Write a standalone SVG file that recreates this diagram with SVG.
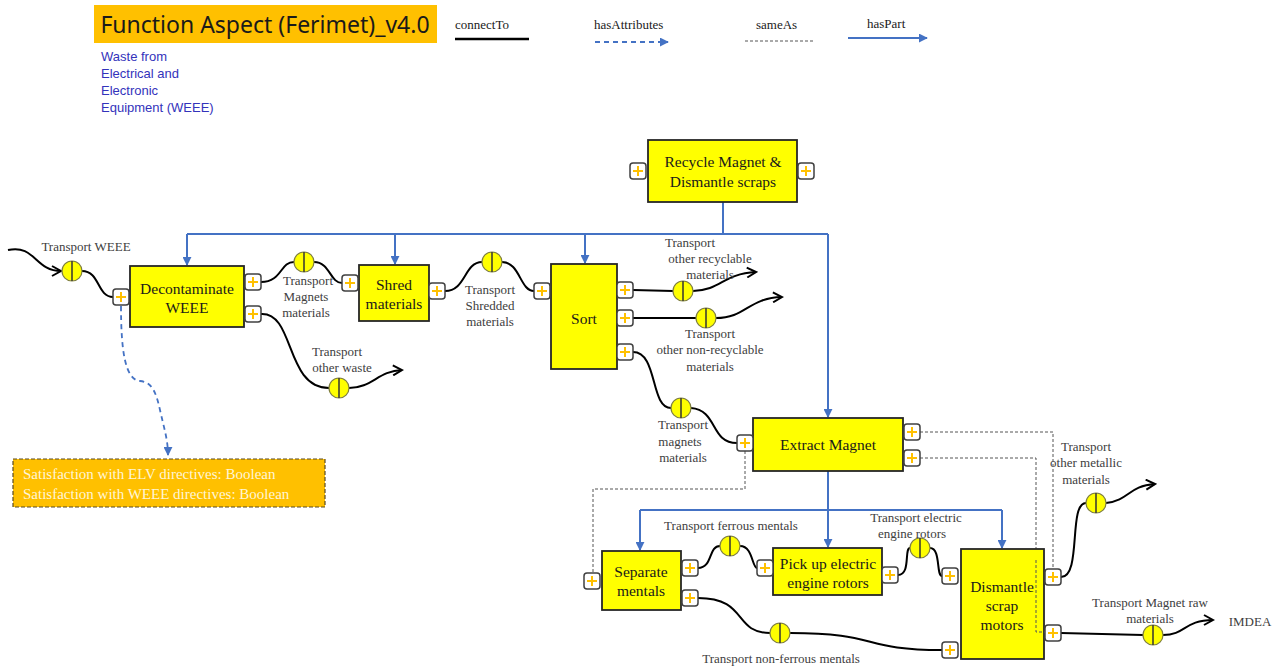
<svg xmlns="http://www.w3.org/2000/svg" width="1280" height="669" viewBox="0 0 1280 669">
<defs>
<marker id="open" viewBox="0 0 12 12" refX="10" refY="6" markerWidth="12" markerHeight="12" markerUnits="userSpaceOnUse" orient="auto"><path d="M1,1 L10,6 L1,11" fill="none" stroke="#000" stroke-width="2"/></marker>
<marker id="blue" viewBox="0 0 10 10" refX="9" refY="5" markerWidth="9" markerHeight="9" markerUnits="userSpaceOnUse" orient="auto"><path d="M0,0 L10,5 L0,10 Z" fill="#4472C4"/></marker>
<g id="port"><rect x="-8" y="-8" width="16" height="16" rx="3" fill="#fff" stroke="#404040" stroke-width="1.5"/><path d="M-5,0 H5 M0,-5 V5" stroke="#FFC000" stroke-width="2"/></g>
<g id="flow"><circle r="10" fill="#FFFF00" stroke="#7F7F3F" stroke-width="1.2"/><path d="M0,-10 V10" stroke="#333" stroke-width="1.5"/></g>
</defs>
<style>
.node{fill:#FFFF00;stroke:#262626;stroke-width:1.8}
.nl{font-family:'Liberation Serif','Times New Roman',Times,'DejaVu Serif',serif;font-size:15.5px;fill:#1a1a1a;text-anchor:middle}
.cl{font-family:'Liberation Serif','Times New Roman',Times,'DejaVu Serif',serif;font-size:13px;fill:#404040;text-anchor:middle}
.ser{font-family:'Liberation Serif','Times New Roman',Times,'DejaVu Serif',serif}
.flowline{fill:none;stroke:#000;stroke-width:2}
.part{fill:none;stroke:#4472C4;stroke-width:2}
.same{fill:none;stroke:#555;stroke-width:1;stroke-dasharray:3,2}
</style>
<rect width="1280" height="669" fill="#fff"/>

<g id="header">
<rect x="94" y="5" width="343" height="38" fill="#FFC000"/>
<text x="265" y="33" font-family="'Noto Sans','Liberation Sans',sans-serif" font-size="23" fill="#1a1a1a" text-anchor="middle">Function Aspect (Ferimet)_v4.0</text>
<g font-family="'Liberation Sans',sans-serif" font-size="13" fill="#3333BB">
<text x="101" y="61">Waste from</text>
<text x="101" y="78">Electrical and</text>
<text x="101" y="95">Electronic</text>
<text x="101" y="112">Equipment (WEEE)</text>
</g>
</g>

<g id="legend" class="ser" font-size="13" fill="#1a1a1a">
<text x="455" y="29">connectTo</text>
<path d="M455,39 H529" stroke="#000" stroke-width="2.5"/>
<text x="594" y="29">hasAttributes</text>
<path d="M595,42 H668" stroke="#4472C4" stroke-width="1.8" stroke-dasharray="5,4" marker-end="url(#blue)"/>
<text x="756" y="29">sameAs</text>
<path d="M745,41 H815" class="same"/>
<text x="867" y="28">hasPart</text>
<path d="M848,38 H927" class="part" marker-end="url(#blue)"/>
</g>

<g id="connectors">
<!-- hasPart -->
<path class="part" d="M723,202 V234 M187,234 H828"/>
<path class="part" d="M187,234 V265" marker-end="url(#blue)"/>
<path class="part" d="M395,234 V264" marker-end="url(#blue)"/>
<path class="part" d="M585,234 V263" marker-end="url(#blue)"/>
<path class="part" d="M828,234 V417" marker-end="url(#blue)"/>
<path class="part" d="M828,471 V510 M640,510 H1002"/>
<path class="part" d="M640,510 V550" marker-end="url(#blue)"/>
<path class="part" d="M828,510 V547" marker-end="url(#blue)"/>
<path class="part" d="M1002,510 V548" marker-end="url(#blue)"/>
<!-- hasAttributes -->
<path d="M121,306 C121,350 125,380 140,381 C152,382 156,392 160,410 C164,428 168,440 168,455" fill="none" stroke="#4472C4" stroke-width="1.8" stroke-dasharray="5,4" marker-end="url(#blue)"/>
<!-- sameAs -->
<path class="same" d="M745,451 V489 H593 V573"/>
<path class="same" d="M920,432 H1053 V569"/>
<path class="same" d="M920,458 H1036 V632 H1045"/>
<!-- connectTo flows -->
<path class="flowline" d="M8,250 C35,244 35,271 61,271" marker-end="url(#open)"/>
<path class="flowline" d="M82,271 C100,271 97,297 113,297"/>
<path class="flowline" d="M261,282 C282,282 280,262 294,262 M314,262 C330,262 330,283 342,283"/>
<path class="flowline" d="M445,291 C466,291 464,262 482,262 M502,262 C520,262 520,291 534,291"/>
<path class="flowline" d="M261,314 C295,312 285,388 329,388"/>
<path class="flowline" d="M349,388 C372,388 378,371 402,370" marker-end="url(#open)"/>
<path class="flowline" d="M633,290 L673,291"/>
<path class="flowline" d="M693,291 C722,290 722,274 756,272" marker-end="url(#open)"/>
<path class="flowline" d="M633,318 L696,318"/>
<path class="flowline" d="M716,318 C746,318 748,298 782,297" marker-end="url(#open)"/>
<path class="flowline" d="M633,352 C658,352 650,408 671,408 M691,408 C718,410 710,443 737,443"/>
<path class="flowline" d="M698,568 C713,568 708,546 720,546 M740,546 C753,546 752,568 757,568"/>
<path class="flowline" d="M898,575 C911,575 904,548 910,548 M930,548 C941,548 936,576 942,576"/>
<path class="flowline" d="M698,598 C748,598 733,633 770,633 M790,633 C880,633 860,650 942,650"/>
<path class="flowline" d="M1061,577 C1082,577 1068,503 1086,503"/>
<path class="flowline" d="M1106,503 C1130,500 1128,486 1155,484" marker-end="url(#open)"/>
<path class="flowline" d="M1061,633 L1143,635"/>
<path class="flowline" d="M1163,635 C1186,635 1184,620 1213,620" marker-end="url(#open)"/>
<!-- flow symbols -->
<use href="#flow" x="72" y="271"/>
<use href="#flow" x="304" y="262"/>
<use href="#flow" x="492" y="262"/>
<use href="#flow" x="339" y="388"/>
<use href="#flow" x="683" y="291"/>
<use href="#flow" x="706" y="318"/>
<use href="#flow" x="681" y="408"/>
<use href="#flow" x="730" y="546"/>
<use href="#flow" x="920" y="548"/>
<use href="#flow" x="780" y="633"/>
<use href="#flow" x="1096" y="503"/>
<use href="#flow" x="1153" y="635"/>
<!-- labels -->
<text class="cl" x="86" y="251">Transport WEEE</text>
<text class="cl" x="308" y="285">Transport</text><text class="cl" x="306" y="301">Magnets</text><text class="cl" x="306" y="317">materials</text>
<text class="cl" x="490" y="294">Transport</text><text class="cl" x="490" y="310">Shredded</text><text class="cl" x="490" y="326">materials</text>
<text class="cl" x="337" y="356">Transport</text><text class="cl" x="342" y="372">other waste</text>
<text class="cl" x="690" y="247">Transport</text><text class="cl" x="710" y="263">other recyclable</text><text class="cl" x="710" y="279">materials</text>
<text class="cl" x="710" y="338">Transport</text><text class="cl" x="710" y="354">other non-recyclable</text><text class="cl" x="710" y="371">materials</text>
<text class="cl" x="683" y="429">Transport</text><text class="cl" x="680" y="446">magnets</text><text class="cl" x="683" y="462">materials</text>
<text class="cl" x="731" y="530">Transport  ferrous mentals</text>
<text class="cl" x="916" y="522">Transport electric</text><text class="cl" x="912" y="538">engine rotors</text>
<text class="cl" x="781" y="663">Transport  non-ferrous mentals</text>
<text class="cl" x="1086" y="451">Transport</text><text class="cl" x="1086" y="467">other metallic</text><text class="cl" x="1086" y="484">materials</text>
<text class="cl" x="1150" y="607">Transport  Magnet raw</text><text class="cl" x="1150" y="623">materials</text>
<text class="cl" x="1250" y="626">IMDEA</text>
</g>

<g id="recycle">
<rect class="node" x="648" y="140" width="149" height="62"/>
<text class="nl" x="723" y="167">Recycle Magnet &amp;</text>
<text class="nl" x="723" y="187">Dismantle scraps</text>
<use href="#port" x="638" y="171"/><use href="#port" x="806" y="171"/>
</g>
<g id="decontaminate">
<rect class="node" x="130" y="266" width="114" height="61"/>
<text class="nl" x="187" y="294">Decontaminate</text>
<text class="nl" x="187" y="313">WEEE</text>
<use href="#port" x="121" y="297"/><use href="#port" x="253" y="282"/><use href="#port" x="253" y="314"/>
</g>
<g id="shred">
<rect class="node" x="359" y="265" width="70" height="56"/>
<text class="nl" x="394" y="290">Shred</text>
<text class="nl" x="394" y="309">materials</text>
<use href="#port" x="350" y="283"/><use href="#port" x="437" y="291"/>
</g>
<g id="sort">
<rect class="node" x="551" y="264" width="66" height="105"/>
<text class="nl" x="584" y="324">Sort</text>
<use href="#port" x="542" y="291"/><use href="#port" x="625" y="290"/><use href="#port" x="625" y="318"/><use href="#port" x="625" y="352"/>
</g>
<g id="extract">
<rect class="node" x="753" y="418" width="150" height="53"/>
<text class="nl" x="828" y="450">Extract Magnet</text>
<use href="#port" x="745" y="443"/><use href="#port" x="912" y="432"/><use href="#port" x="912" y="458"/>
</g>
<g id="separate">
<rect class="node" x="602" y="551" width="79" height="59"/>
<text class="nl" x="641" y="577">Separate</text>
<text class="nl" x="641" y="596">mentals</text>
<use href="#port" x="592" y="581"/><use href="#port" x="690" y="568"/><use href="#port" x="690" y="598"/>
</g>
<g id="pickup">
<rect class="node" x="773" y="548" width="109" height="47"/>
<text class="nl" x="828" y="569">Pick up electric</text>
<text class="nl" x="828" y="588">engine rotors</text>
<use href="#port" x="765" y="568"/><use href="#port" x="890" y="575"/>
</g>
<g id="dismantle">
<rect class="node" x="961" y="549" width="83" height="110"/>
<text class="nl" x="1002" y="592">Dismantle</text>
<text class="nl" x="1002" y="611">scrap</text>
<text class="nl" x="1002" y="630">motors</text>
<use href="#port" x="950" y="576"/><use href="#port" x="950" y="650"/><use href="#port" x="1053" y="577"/><use href="#port" x="1053" y="633"/>
</g>
<path class="same" d="M1036,560 V632 H1045"/>

<g id="attributes">
<rect x="13" y="459" width="312" height="48" fill="#FFC000" stroke="#5a4a20" stroke-width="1.2" stroke-dasharray="4,2"/>
<text x="23" y="479" class="ser" font-size="15" fill="#FFF5D6">Satisfaction with ELV directives: Boolean</text>
<text x="23" y="499" class="ser" font-size="15" fill="#FFF5D6">Satisfaction with WEEE directives: Boolean</text>
</g>
</svg>
